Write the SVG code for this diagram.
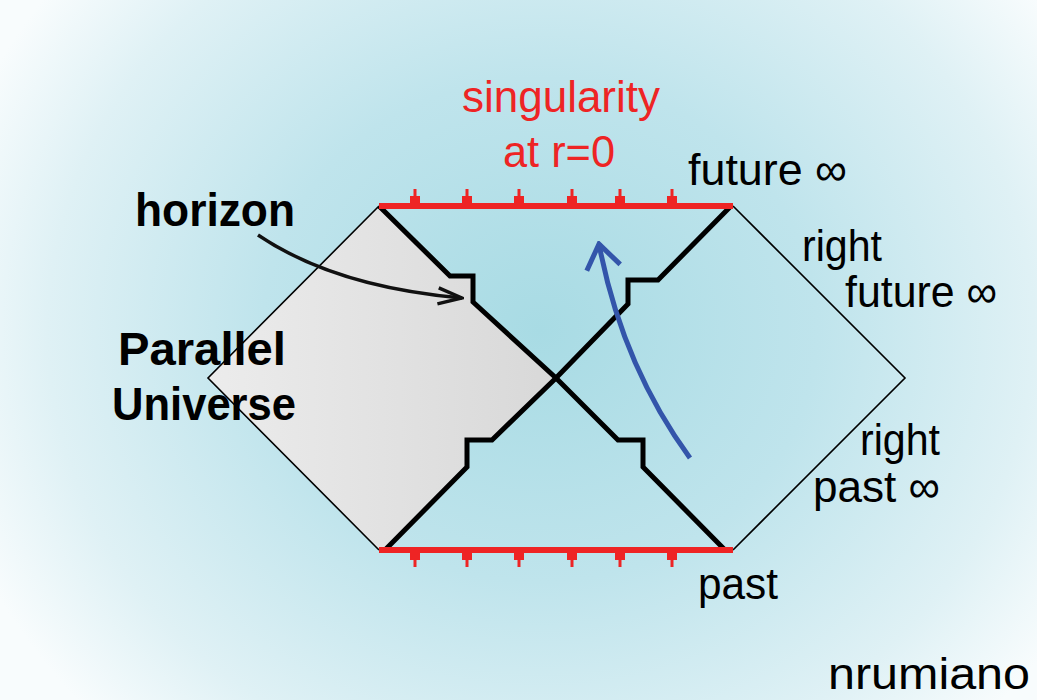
<svg xmlns="http://www.w3.org/2000/svg" width="1037" height="700" viewBox="0 0 1037 700">
  <defs>
    <radialGradient id="bg" gradientUnits="userSpaceOnUse" cx="540" cy="330" r="560" gradientTransform="translate(540 330) scale(1.1 1) translate(-540 -330)">
      <stop offset="0" stop-color="#a8dbe4"/>
      <stop offset="0.45" stop-color="#bfe4ec"/>
      <stop offset="0.8" stop-color="#dff1f5"/>
      <stop offset="1" stop-color="#f8fcfd"/>
    </radialGradient>
    <linearGradient id="gray" gradientUnits="userSpaceOnUse" x1="208" y1="378" x2="556" y2="378">
      <stop offset="0" stop-color="#ececec"/>
      <stop offset="1" stop-color="#d8d8d8"/>
    </linearGradient>
    <marker id="headBlack" viewBox="0 0 28 20" refX="26" refY="10" markerWidth="28" markerHeight="20" markerUnits="userSpaceOnUse" orient="auto">
      <path d="M2,2 L26,10 L2,18" fill="none" stroke="#111" stroke-width="3.5"/>
    </marker>
    <marker id="headBlue" viewBox="0 0 30 40" refX="27" refY="20" markerWidth="30" markerHeight="40" markerUnits="userSpaceOnUse" orient="auto">
      <path d="M3,3 L27,20 L3,37" fill="none" stroke="#3355aa" stroke-width="5"/>
    </marker>
    <g id="tickUp">
      <rect x="-1.5" y="-17" width="3" height="9"/>
      <rect x="-5" y="-10" width="10" height="8"/>
    </g>
  </defs>
  <style>
    .lbl { font-family: "Liberation Sans", Arial, sans-serif; font-size: 45px; fill: #000; }
    .bold { font-weight: bold; font-size: 46px; }
    .red { fill: #ee2424; }
    .thick { fill: none; stroke: #000; stroke-width: 5; stroke-linejoin: miter; }
    .thin { fill: none; stroke: #000; stroke-width: 1.6; }
    .sing { stroke: #ee2424; stroke-width: 6; }
    .ticks { fill: #ee2424; }
  </style>

  <rect width="1037" height="700" fill="url(#bg)"/>

  <g id="parallel-universe">
    <polygon points="379,206 208,378 379,550 385,550 467,468 467,440 492,440 556,378 473,300 473,274 450,274" fill="url(#gray)"/>
  </g>

  <g id="outer-boundary">
    <polyline class="thin" points="379,206 208,378 379,550"/>
    <polyline class="thin" points="733,206 905,378 733,550"/>
  </g>

  <g id="horizons">
    <polyline class="thick" points="379,206 450,276 473,276 473,302 556,378 618,440 643,440 643,467 725,550"/>
    <polyline class="thick" points="730,207 658,280 628,280 628,304 556,378 492,440 467,440 467,467 385,550"/>
  </g>

  <g id="singularity-top">
    <line class="sing" x1="379" y1="206" x2="733" y2="206"/>
    <g class="ticks">
      <use href="#tickUp" x="415" y="206"/>
      <use href="#tickUp" x="467" y="206"/>
      <use href="#tickUp" x="519" y="206"/>
      <use href="#tickUp" x="572" y="206"/>
      <use href="#tickUp" x="620" y="206"/>
      <use href="#tickUp" x="672" y="206"/>
    </g>
  </g>

  <g id="singularity-bottom">
    <line class="sing" x1="379" y1="550" x2="733" y2="550"/>
    <g class="ticks" transform="translate(0 1100) scale(1 -1)">
      <use href="#tickUp" x="415" y="550"/>
      <use href="#tickUp" x="467" y="550"/>
      <use href="#tickUp" x="519" y="550"/>
      <use href="#tickUp" x="572" y="550"/>
      <use href="#tickUp" x="620" y="550"/>
      <use href="#tickUp" x="672" y="550"/>
    </g>
  </g>

  <g id="connectors">
    <path d="M258,235 Q335,287 462,298" fill="none" stroke="#111" stroke-width="3.5" marker-end="url(#headBlack)"/>
    <path d="M690,458 Q622,365 599,244" fill="none" stroke="#3355aa" stroke-width="5" marker-end="url(#headBlue)"/>
  </g>

  <g id="labels">
    <text class="lbl red" x="462" y="112" textLength="198" lengthAdjust="spacingAndGlyphs">singularity</text>
    <text class="lbl red" x="503" y="167" textLength="112" lengthAdjust="spacingAndGlyphs">at r=0</text>
    <text class="lbl" x="688" y="185" textLength="159" lengthAdjust="spacingAndGlyphs">future ∞</text>
    <text class="lbl" x="802" y="261" textLength="80" lengthAdjust="spacingAndGlyphs">right</text>
    <text class="lbl" x="845" y="307" textLength="152" lengthAdjust="spacingAndGlyphs">future ∞</text>
    <text class="lbl bold" x="135" y="226" textLength="160" lengthAdjust="spacingAndGlyphs">horizon</text>
    <text class="lbl bold" x="118" y="365" textLength="168" lengthAdjust="spacingAndGlyphs">Parallel</text>
    <text class="lbl bold" x="112" y="420" textLength="184" lengthAdjust="spacingAndGlyphs">Universe</text>
    <text class="lbl" x="860" y="455" textLength="80" lengthAdjust="spacingAndGlyphs">right</text>
    <text class="lbl" x="813" y="502" textLength="127" lengthAdjust="spacingAndGlyphs">past ∞</text>
    <text class="lbl" x="698" y="599" textLength="80" lengthAdjust="spacingAndGlyphs">past</text>
    <text class="lbl" x="828" y="689" textLength="202" lengthAdjust="spacingAndGlyphs">nrumiano</text>
  </g>
</svg>
